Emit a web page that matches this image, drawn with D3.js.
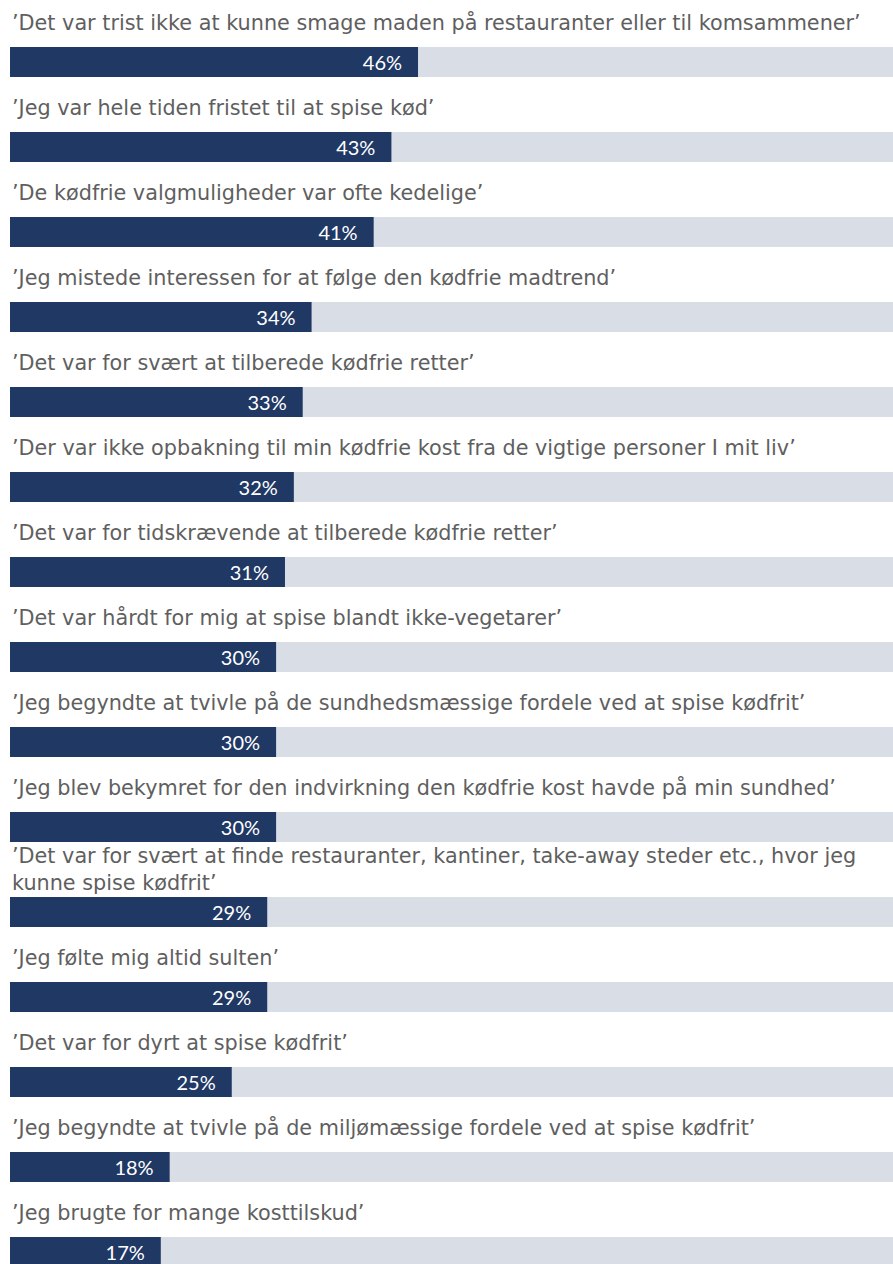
<!DOCTYPE html>
<html>
<head>
<meta charset="utf-8">
<script src="https://cdn.jsdelivr.net/npm/d3@7"></script>
<style>
  html, body { margin: 0; padding: 0; background: #ffffff; }
  svg { display: block; }
</style>
</head>
<body>
<svg id="chart" width="893" height="1264"></svg>
<script>
// Reasons for giving up a meat-free diet (share of respondents)
const statements = [
  "’Det var trist ikke at kunne smage maden på restauranter eller til komsammener’",
  "’Jeg var hele tiden fristet til at spise kød’",
  "’De kødfrie valgmuligheder var ofte kedelige’",
  "’Jeg mistede interessen for at følge den kødfrie madtrend’",
  "’Det var for svært at tilberede kødfrie retter’",
  "’Der var ikke opbakning til min kødfrie kost fra de vigtige personer I mit liv’",
  "’Det var for tidskrævende at tilberede kødfrie retter’",
  "’Det var hårdt for mig at spise blandt ikke-vegetarer’",
  "’Jeg begyndte at tvivle på de sundhedsmæssige fordele ved at spise kødfrit’",
  "’Jeg blev bekymret for den indvirkning den kødfrie kost havde på min sundhed’",
  "’Det var for svært at finde restauranter, kantiner, take-away steder etc., hvor jeg kunne spise kødfrit’",
  "’Jeg følte mig altid sulten’",
  "’Det var for dyrt at spise kødfrit’",
  "’Jeg begyndte at tvivle på de miljømæssige fordele ved at spise kødfrit’",
  "’Jeg brugte for mange kosttilskud’"
];
const shares = [46, 43, 41, 34, 33, 32, 31, 30, 30, 30, 29, 29, 25, 18, 17];

const rowStep = 85, barH = 30, barOffset = 55;
const labelFont = "'DejaVu Sans', Verdana, sans-serif";
const firstLineWidth = 849;   // width the longest single-line statement should occupy
const wrapWidth = 862;

const svg = d3.select("#chart");

// size the statement font so the longest one-line statement spans the track
const probeText = svg.append("text")
  .style("font-family", labelFont)
  .style("font-size", "20px")
  .text(statements[0]);
const labelSize = 20 * firstLineWidth / probeText.node().getComputedTextLength();
probeText.remove();

const x = d3.scaleLinear().domain([0, 100]).range([10, 897]);
const y = d3.scaleBand()
  .domain(d3.range(statements.length))
  .range([-8, -8 + rowStep * statements.length])
  .paddingInner(0).paddingOuter(0);

const rows = svg.selectAll("g.row")
  .data(statements.map((s, i) => ({ s, v: shares[i], i })))
  .join("g")
  .attr("class", "row")
  .attr("transform", d => `translate(0,${y(d.i)})`);

// grey track spanning the full 0–100% range
rows.append("rect")
  .attr("x", x(0))
  .attr("y", barOffset)
  .attr("width", x(100) - x(0))
  .attr("height", barH)
  .attr("fill", "#d9dee6");

// value bar
rows.append("rect")
  .attr("x", x(0))
  .attr("y", barOffset)
  .attr("width", d => x(d.v) - x(0))
  .attr("height", barH)
  .attr("fill", "#203864");

// percentage inside the bar end
rows.append("text")
  .attr("x", d => x(d.v) - 16)
  .attr("y", barOffset + 23)
  .attr("text-anchor", "end")
  .attr("fill", "#ffffff")
  .style("font-family", "Lato, 'Open Sans', sans-serif")
  .style("font-size", "20px")
  .text(d => d.v + "%");

// statement text, wrapped when it is wider than the track
rows.each(function(d) {
  const g = d3.select(this);
  const t = g.append("text")
    .attr("fill", "#5f5f5f")
    .style("font-family", labelFont)
    .style("font-size", labelSize + "px");
  const words = d.s.split(" ");
  const lines = [];
  let line = [];
  const probe = t.append("tspan");
  words.forEach(w => {
    probe.text(line.concat(w).join(" "));
    if (probe.node().getComputedTextLength() > wrapWidth && line.length) {
      lines.push(line.join(" "));
      line = [w];
    } else {
      line.push(w);
    }
  });
  lines.push(line.join(" "));
  probe.remove();
  const lineGap = 27;
  lines.forEach((ln, k) => {
    const base = lines.length === 1
      ? barOffset - 17
      : barOffset - 7 - (lines.length - 1 - k) * lineGap;
    t.append("tspan").attr("x", 12).attr("y", base).text(ln);
  });
});
</script>
</body>
</html>
